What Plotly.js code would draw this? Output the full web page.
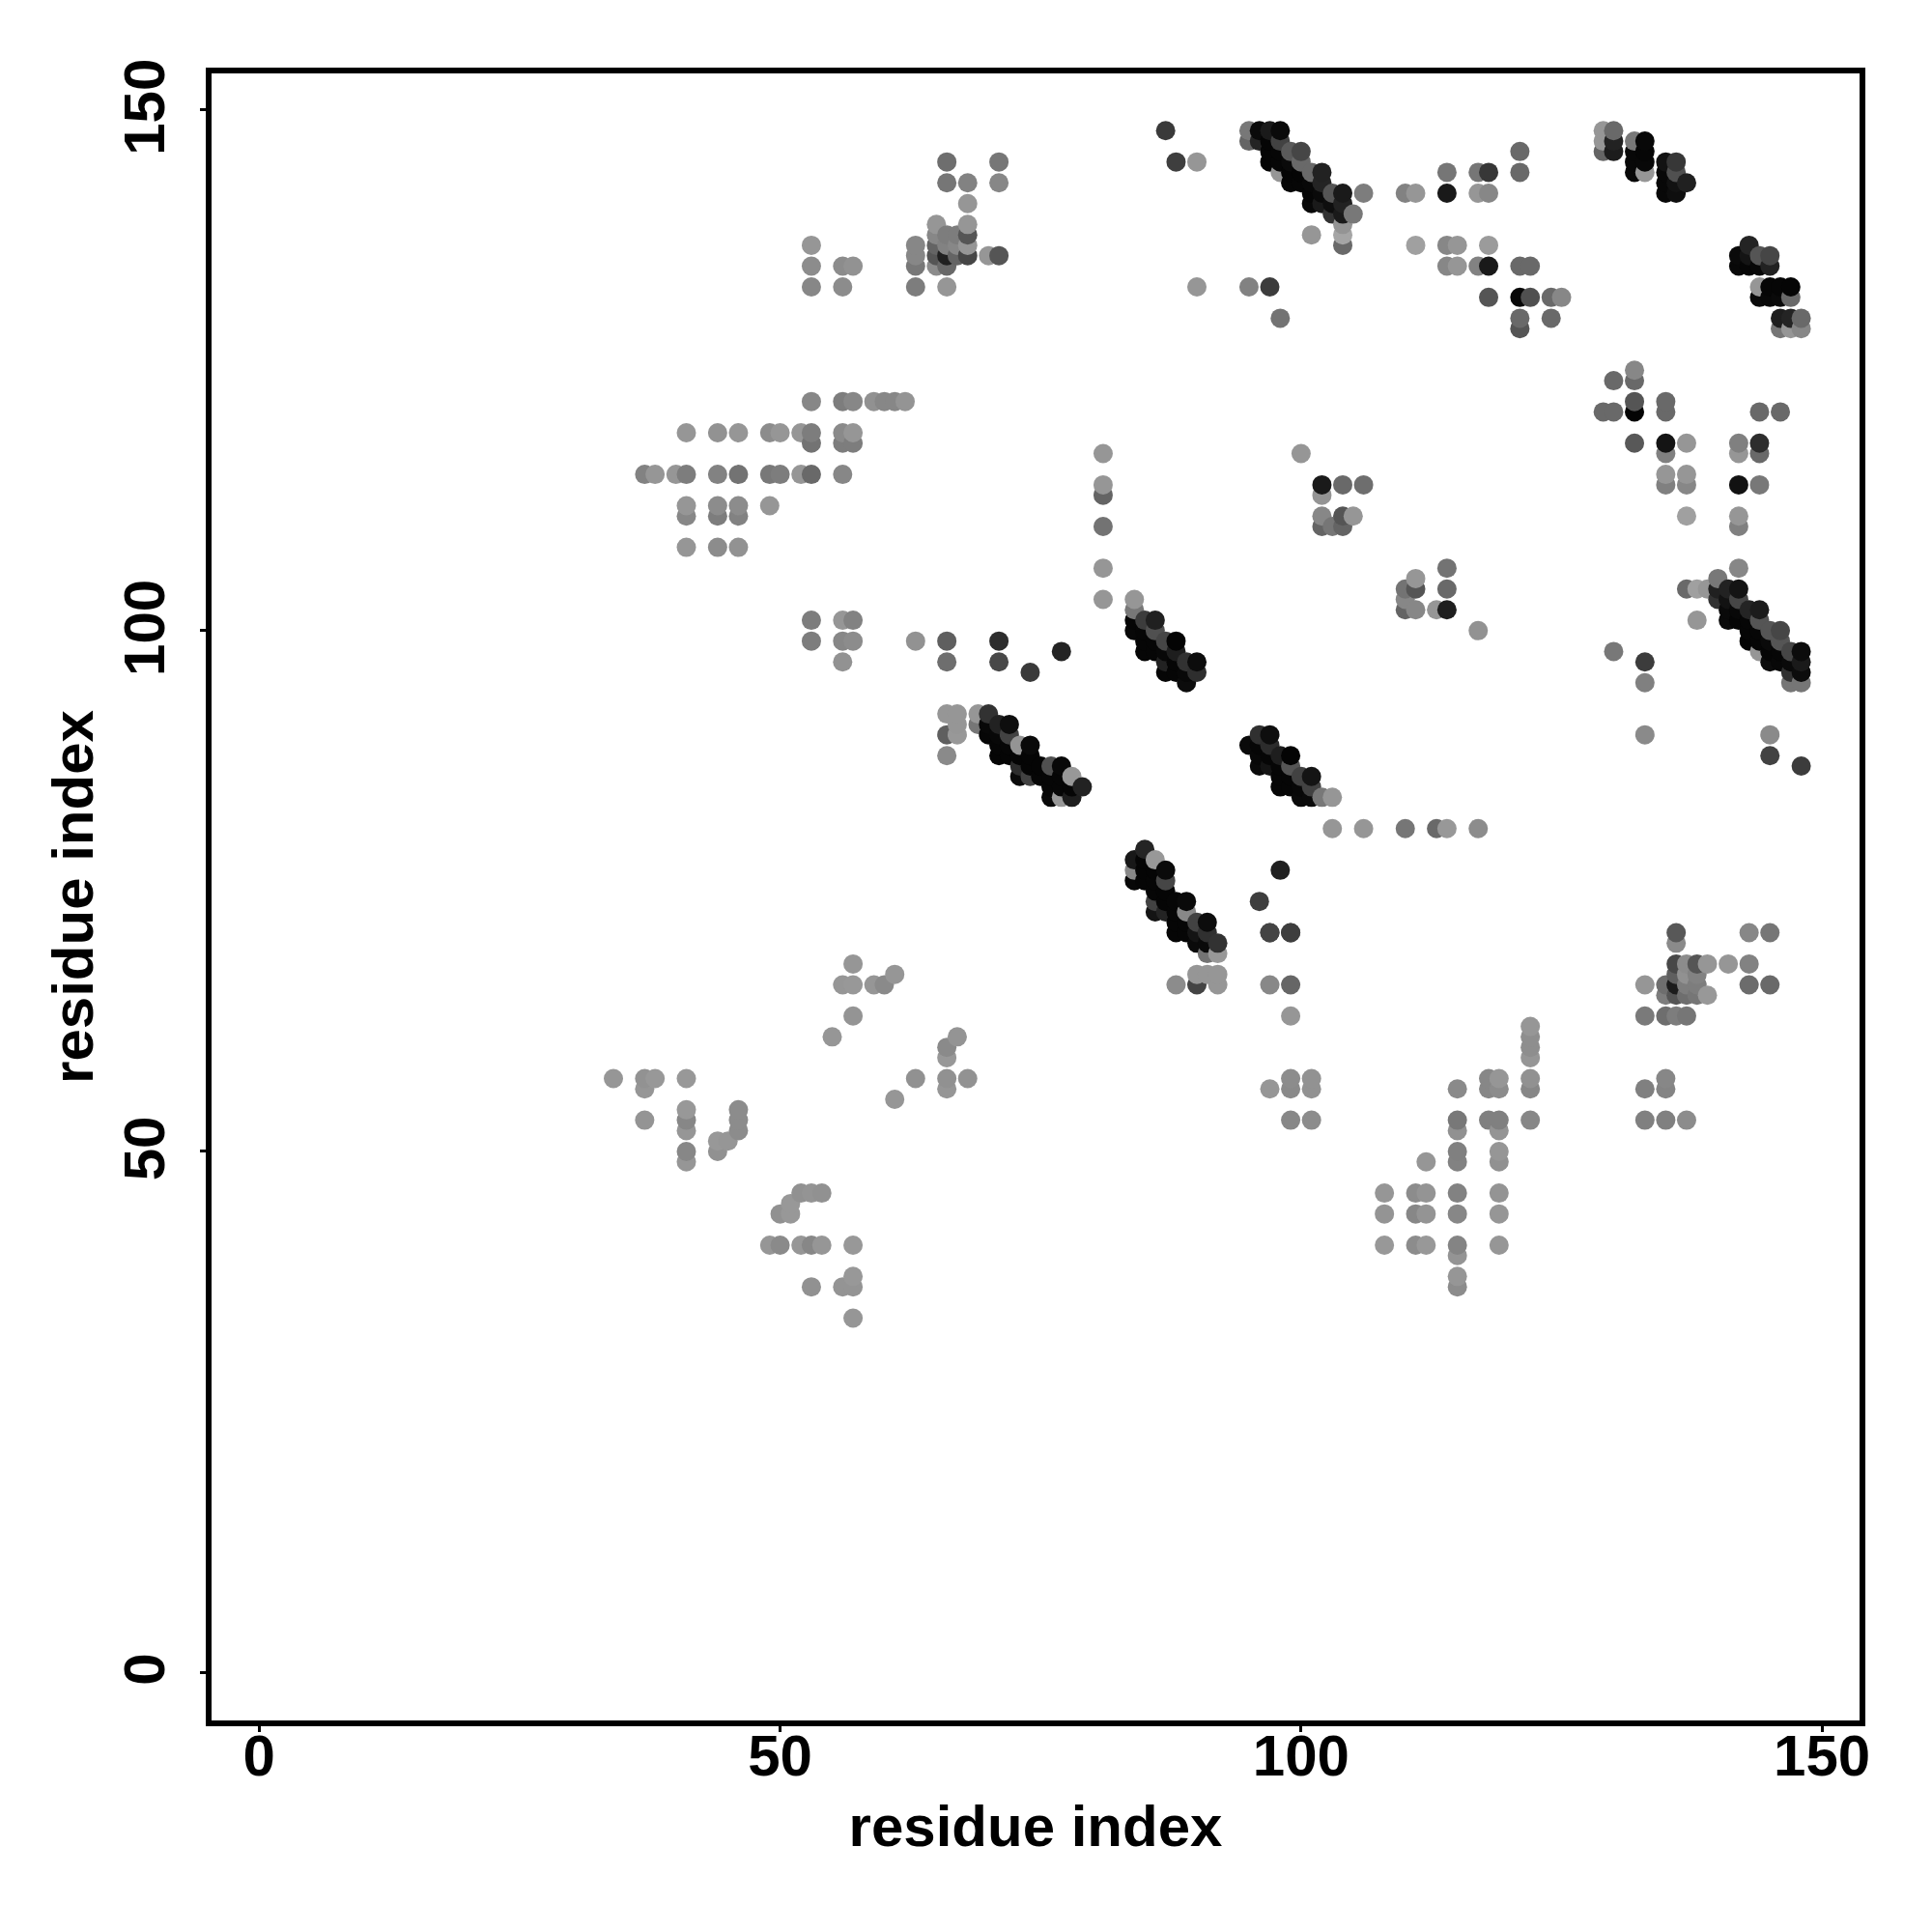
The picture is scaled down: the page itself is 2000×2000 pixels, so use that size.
<!DOCTYPE html>
<html>
<head>
<meta charset="utf-8">
<script src="https://cdn.plot.ly/plotly-3.0.1.min.js"></script>
<style>html,body{margin:0;padding:0;background:#fff}</style>
</head>
<body>
<div id="chart" style="width:2000px;height:2000px"></div>
<script>
// Each entry: [residue x, residue y, grey level]
const lowLeft = [[34,57,150],[37,57,146],[38,57,152],[37,56,150],[41,57,152],[37,53,148],[41,54,152],[41,53,135],[41,52,150],[41,50,135],[41,49,150],[44,50,145],[44,51,152],[45,51,150],[46,54,140],[46,53,140],[46,52,140]];
const lowLeftUpper = [[56,66,150],[57,66,152],[57,68,150],[59,66,150],[60,66,138],[61,67,150],[57,63,148],[55,61,150],[67,61,148],[66,60,138],[66,59,152],[63,57,145],[66,57,145],[68,57,146],[66,56,150],[61,55,150]];
const lowBottom = [[52,46,145],[53,46,148],[54,46,145],[51,45,152],[50,44,145],[51,44,152],[49,41,150],[50,41,138],[52,41,150],[53,41,135],[54,41,150],[57,41,152],[53,37,145],[56,37,148],[57,37,148],[57,38,152],[57,34,150]];
const midLow = [[97,56,150],[99,57,140],[101,57,146],[99,56,138],[101,56,146],[99,53,135],[101,53,140],[97,66,136],[99,66,102],[99,63,150],[97,71,68],[99,71,60]];
const midBottom = [[122,62,150],[122,61,142],[122,60,142],[122,59,150],[122,57,145],[122,56,135],[122,53,135],[118,57,135],[119,57,150],[118,56,135],[119,56,140],[115,56,138],[115,53,120],[118,53,128],[119,53,128],[119,52,148],[115,52,145],[112,49,150],[115,50,128],[115,49,130],[119,50,150],[119,49,145],[108,46,150],[111,46,140],[112,46,148],[115,46,130],[119,46,148],[108,44,148],[111,44,135],[112,44,148],[115,44,135],[119,44,150],[108,41,152],[111,41,140],[112,41,152],[115,41,132],[115,40,148],[119,41,150],[115,38,150],[115,37,140]];
const rightLow = [[135,57,135],[133,56,128],[135,56,132],[133,53,128],[135,53,128],[137,53,140],[133,63,122],[135,63,110],[136,63,125],[137,63,118],[133,66,150],[135,66,110],[135,65,125],[136,71,88],[136,70,138],[143,71,135],[145,71,118],[136,68,72],[137,68,140],[138,68,85],[139,68,150],[141,68,150],[143,68,130],[143,66,108],[145,66,105],[136,67,95],[137,67,145],[138,67,130],[136,66,28],[137,66,125],[138,66,125],[136,65,85],[137,65,110],[138,65,118],[139,65,152]];
const blockA = [[66,97,110],[71,97,72],[74,96,58],[77,98,36],[66,99,95],[71,99,45],[63,99,146],[66,92,150],[67,92,150],[69,92,150],[70,92,50],[67,91,150],[66,90,95],[67,90,152],[69,91,118],[70,91,8],[71,91,34],[72,91,14],[70,90,6],[71,90,8],[72,90,66],[66,88,138],[71,89,6],[72,89,6],[73,89,148],[74,89,10],[71,88,5],[72,88,5],[73,88,5],[74,88,5],[73,87,45],[74,87,5],[75,87,5],[76,87,80],[77,87,8],[73,86,10],[74,86,66],[75,86,6],[76,86,6],[77,86,6],[78,86,152],[76,85,6],[77,85,6],[78,85,6],[79,85,34],[76,84,8],[77,84,152],[78,84,30]];
const blockB = [[96,90,48],[97,90,14],[95,89,10],[96,89,6],[97,89,44],[96,88,8],[97,88,6],[98,88,30],[99,88,4],[96,87,10],[97,87,20],[98,87,6],[99,87,85],[98,86,6],[99,86,6],[100,86,66],[101,86,20],[98,85,6],[99,85,6],[100,85,8],[101,85,66],[100,84,10],[101,84,10],[102,84,120],[103,84,150],[103,81,150],[106,81,150],[110,81,118],[113,81,105],[114,81,152],[117,81,140]];
const blockC = [[85,79,36],[84,78,24],[85,78,5],[86,78,152],[84,77,136],[85,77,5],[86,77,5],[87,77,10],[84,76,8],[85,76,6],[86,76,6],[87,76,70],[86,75,6],[87,75,5],[86,74,66],[87,74,5],[88,74,6],[89,74,10],[86,73,20],[87,73,36],[88,73,6],[89,73,136],[88,72,6],[89,72,6],[90,72,66],[91,72,12],[88,71,6],[89,71,6],[90,71,20],[91,71,48],[90,70,10],[91,70,10],[92,70,50],[91,69,115],[92,69,152],[98,77,32],[96,74,62],[97,71,68],[99,71,62],[90,67,150],[91,67,150],[92,67,150],[88,66,140],[90,66,68],[92,66,150]];
const blockD = [[81,117,150],[81,114,150],[81,113,100],[81,110,115],[81,106,150],[81,103,150],[100,117,150],[102,114,26],[104,114,105],[106,114,110],[102,113,148],[102,111,135],[104,111,85],[105,111,150],[102,110,100],[103,110,118],[104,110,100],[111,105,150],[110,104,115],[111,104,85],[110,103,135],[110,102,100],[111,102,135],[113,102,150],[114,102,30],[114,106,115],[114,104,105],[84,103,150],[84,102,120],[84,101,5],[84,100,8],[85,101,60],[86,101,32],[85,100,6],[86,100,80],[85,99,6],[86,99,6],[87,99,70],[88,99,4],[85,98,6],[86,98,6],[87,98,8],[88,98,30],[87,97,34],[88,97,6],[89,97,50],[90,97,12],[87,96,6],[88,96,6],[89,96,8],[90,96,46],[89,95,12],[117,100,146]];
const upperLeft = [[53,122,135],[56,122,125],[57,122,135],[59,122,145],[60,122,135],[61,122,135],[62,122,148],[41,119,150],[44,119,146],[46,119,150],[49,119,140],[50,119,150],[52,119,150],[53,119,125],[56,119,138],[57,119,150],[53,118,115],[56,118,125],[57,118,125],[37,115,130],[38,115,150],[40,115,150],[41,115,125],[44,115,130],[46,115,115],[49,115,120],[50,115,125],[52,115,150],[53,115,105],[56,115,135],[41,112,150],[44,112,140],[46,112,140],[49,112,150],[41,111,135],[44,111,125],[46,111,130],[41,108,150],[44,108,140],[46,108,146],[53,101,125],[56,101,150],[57,101,130],[53,99,125],[56,99,135],[57,99,140],[56,97,146]];
const topCluster = [[66,145,110],[71,145,118],[66,143,118],[68,143,130],[71,143,135],[68,141,150],[65,139,150],[68,139,150],[68,138,85],[65,138,135],[66,138,125],[67,138,125],[65,137,100],[66,137,130],[67,137,135],[68,137,150],[65,136,85],[66,136,32],[67,136,100],[68,136,70],[65,135,140],[66,135,105],[70,136,150],[71,136,85],[53,137,150],[53,135,140],[53,133,135],[56,135,140],[57,135,146],[56,133,140],[63,137,135],[63,136,135],[63,135,120],[63,133,125],[66,133,150],[87,148,58],[88,145,62],[90,145,150],[90,133,150],[95,133,130],[97,133,60],[98,130,115]];
const blockE = [[95,148,120],[95,147,100],[96,148,10],[97,148,26],[98,148,10],[96,147,36],[97,147,5],[98,147,66],[97,146,6],[98,146,6],[99,146,90],[100,146,70],[97,145,5],[98,145,6],[99,145,10],[100,145,105],[99,144,5],[100,144,5],[101,144,105],[102,144,34],[98,144,150],[99,143,6],[100,143,6],[101,143,8],[102,143,36],[101,142,6],[102,142,10],[103,142,85],[104,142,26],[101,141,8],[102,141,26],[103,141,14],[104,141,34],[103,140,50],[104,140,26],[105,140,120],[106,142,125],[104,139,148],[104,138,165],[104,137,105],[101,138,150]];
const upperMid = [[110,142,130],[111,142,150],[114,142,25],[117,142,150],[118,142,135],[114,144,118],[117,144,118],[118,144,55],[121,144,105],[121,146,105],[111,137,160],[114,137,135],[115,137,150],[118,137,155],[114,135,135],[115,135,150],[117,135,130],[118,135,25],[121,135,105],[122,135,105],[118,132,85],[121,132,8],[122,132,80],[124,132,105],[125,132,135],[121,130,105],[124,130,105],[121,129,85]];
const blockF = [[129,148,150],[130,148,105],[129,147,150],[130,147,34],[129,146,100],[130,146,28],[132,147,120],[133,147,8],[132,146,8],[133,146,6],[132,145,8],[133,145,8],[132,144,8],[133,144,150],[135,145,18],[136,145,55],[135,144,8],[136,144,80],[135,143,8],[136,143,18],[137,143,32],[135,142,8],[136,142,14]];
const blockG = [[143,137,36],[142,136,10],[143,136,20],[144,136,85],[145,136,70],[142,135,8],[143,135,6],[144,135,8],[145,135,34],[144,133,150],[145,133,6],[146,133,6],[147,133,5],[144,132,10],[145,132,8],[146,132,10],[147,132,105],[146,130,30],[147,130,36],[148,130,105],[146,129,118],[147,129,150],[148,129,135]];
const rightMid = [[132,125,135],[132,124,105],[130,124,105],[129,121,105],[130,121,105],[132,122,85],[132,121,4],[135,122,105],[135,121,105],[144,121,105],[146,121,105],[132,118,88],[135,118,20],[137,118,150],[142,118,128],[144,118,45],[135,117,128],[142,117,150],[144,117,105],[135,115,150],[137,115,150],[135,114,128],[137,114,135],[142,114,18],[144,114,120],[137,111,160],[142,111,150],[142,110,128],[142,106,135]];
const blockH = [[140,105,120],[137,104,105],[138,104,160],[139,104,150],[140,104,32],[140,103,50],[141,104,34],[142,104,20],[141,103,18],[142,103,70],[141,102,10],[142,102,8],[141,101,10],[142,101,5],[143,102,36],[144,102,28],[138,101,150],[143,101,6],[144,101,85],[143,100,6],[144,100,6],[145,100,85],[146,100,70],[143,99,4],[144,99,6],[145,99,10],[146,99,85],[144,98,150],[145,98,5],[146,98,6],[147,98,70],[148,98,12],[145,97,12],[146,97,8],[147,97,10],[148,97,26],[147,96,50],[148,96,12],[147,95,118],[148,95,118],[130,98,120],[133,97,60],[133,95,128],[133,90,138],[145,90,138],[145,88,66],[148,87,60]];

const axisTicks = [0, 50, 100, 150];
const axisLabel = 'residue index';

// Later (higher residue) points are painted over earlier ones
const contacts = [].concat(lowLeft, lowLeftUpper, lowBottom, midLow, midBottom, rightLow, blockA, blockB, blockC, blockD, upperLeft, topCluster, blockE, upperMid, blockF, blockG, rightMid, blockH)
  .sort((a, b) => a[0] - b[0] || a[1] - b[1]);

const bold = {family: '"Liberation Sans", Arial, sans-serif', size: 60, color: '#000', weight: 700};

function axis(extra) {
  return Object.assign({
    showgrid: false, zeroline: false, showline: true, mirror: true,
    linecolor: '#000', linewidth: 6,
    ticks: 'outside', ticklen: 6, tickwidth: 3, tickcolor: '#000',
    tickmode: 'array', tickvals: axisTicks, ticktext: axisTicks.map(String),
    tickfont: bold, automargin: false
  }, extra);
}

Plotly.newPlot('chart', [{
  type: 'scatter', mode: 'markers',
  x: contacts.map(c => c[0]),
  y: contacts.map(c => c[1]),
  marker: {size: 20, line: {width: 0}, color: contacts.map(c => `rgb(${c[2]},${c[2]},${c[2]})`)},
  hoverinfo: 'x+y'
}], {
  width: 2000, height: 2000,
  margin: {l: 219, r: 75, t: 76, b: 219, pad: 0},
  paper_bgcolor: '#fff', plot_bgcolor: '#fff', showlegend: false,
  xaxis: axis({range: [-4.57, 153.6], ticklabelstandoff: -27, title: {text: axisLabel, font: bold, standoff: 21}}),
  yaxis: axis({range: [-4.63, 153.5], tickangle: -90, ticklabelstandoff: 13, ticklabelshift: 6, title: {text: axisLabel, font: bold, standoff: 2}})
}, {displayModeBar: false, staticPlot: true});
</script>
</body>
</html>
